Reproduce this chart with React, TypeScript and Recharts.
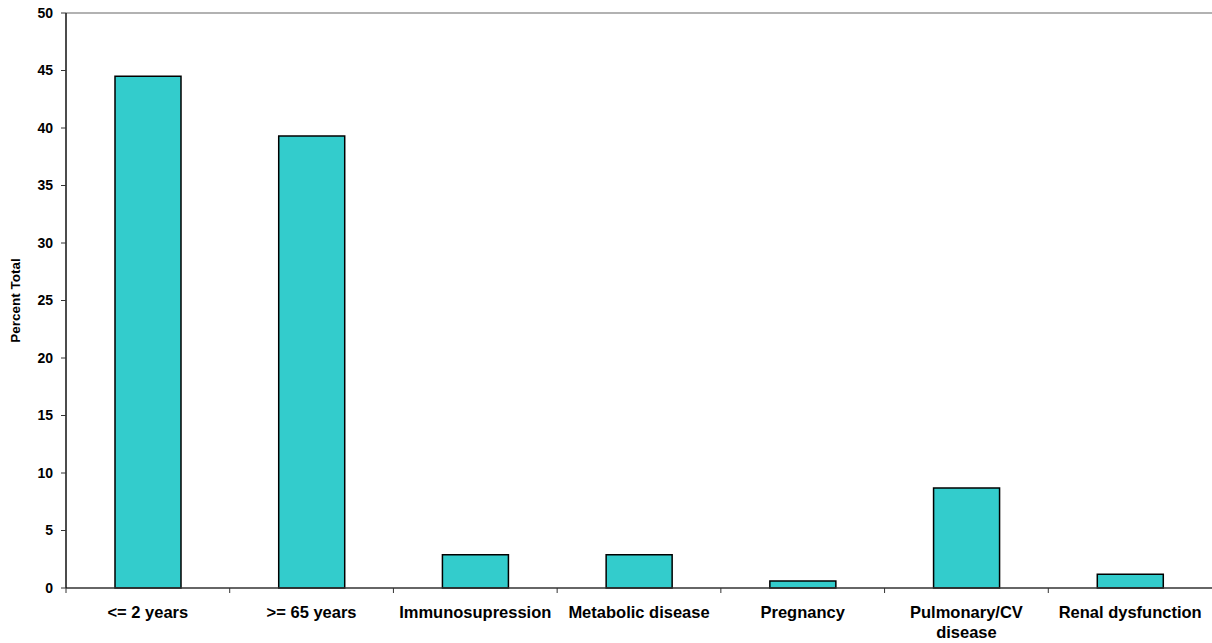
import { Bar, BarChart, ReferenceLine, Text, XAxis, YAxis } from "recharts";

const categories = [
  "<= 2 years",
  ">= 65 years",
  "Immunosupression",
  "Metabolic disease",
  "Pregnancy",
  "Pulmonary/CV disease",
  "Renal dysfunction"
];
const percentTotal = [44.5, 39.3, 2.9, 2.9, 0.6, 8.7, 1.2];
const yTicks = [0, 5, 10, 15, 20, 25, 30, 35, 40, 45, 50];

const data = categories.map((name, i) => ({ name, value: percentTotal[i] }));

const FONT = "Arial, 'Liberation Sans', sans-serif";
const WIDTH = 1212;
const HEIGHT = 643;
const LEFT = 66;
const BAND = (WIDTH - LEFT) / categories.length;

const tickStyle = { fontFamily: FONT, fontWeight: "bold", fontSize: 16.5 };

function CategoryTick(props: any) {
  const { x, y, payload } = props;
  const edge = x - BAND / 2;
  return (
    <g>
      <line x1={edge} x2={edge} y1={y} y2={y + 5} stroke="#333" strokeWidth={1} />
      <Text
        x={x}
        y={y + 18}
        width={160}
        textAnchor="middle"
        verticalAnchor="start"
        lineHeight="1.2em"
        style={tickStyle}
        {...tickStyle}
        fill="#000"
      >
        {payload.value}
      </Text>
    </g>
  );
}

function AxisTitle(props: any) {
  const vb = props.viewBox || {};
  const cy = (vb.y ?? 13) + (vb.height ?? 575) / 2;
  return (
    <text
      x={15}
      y={cy}
      transform={`rotate(-90, 15, ${cy})`}
      textAnchor="middle"
      dominantBaseline="central"
      fontFamily={FONT}
      fontWeight="bold"
      fontSize={13.5}
      fill="#000"
    >
      Percent Total
    </text>
  );
}

export default function App() {
  return (
    <div style={{ position: "absolute", left: 0, top: 0, background: "#fff" }}>
      <BarChart
        width={WIDTH}
        height={HEIGHT}
        data={data}
        margin={{ top: 13, right: 0, left: 0, bottom: 0 }}
      >
        <ReferenceLine y={50} stroke="#999" strokeWidth={1.5} />
        <XAxis
          dataKey="name"
          height={55}
          interval={0}
          tickLine={false}
          tickSize={0}
          tickMargin={0}
          axisLine={{ stroke: "#333", strokeWidth: 1.5 }}
          tick={<CategoryTick />}
        />
        <YAxis
          width={LEFT}
          domain={[0, 50]}
          ticks={yTicks}
          interval={0}
          tickSize={5}
          tickMargin={8}
          axisLine={{ stroke: "#111", strokeWidth: 1.5 }}
          tickLine={{ stroke: "#333" }}
          tick={{ fill: "#000", fontFamily: FONT, fontWeight: "bold", fontSize: 14 }}
          label={<AxisTitle />}
        />
        <Bar
          dataKey="value"
          barSize={66}
          fill="#33CCCC"
          stroke="#000"
          strokeWidth={1.5}
          isAnimationActive={false}
        />
      </BarChart>
    </div>
  );
}
